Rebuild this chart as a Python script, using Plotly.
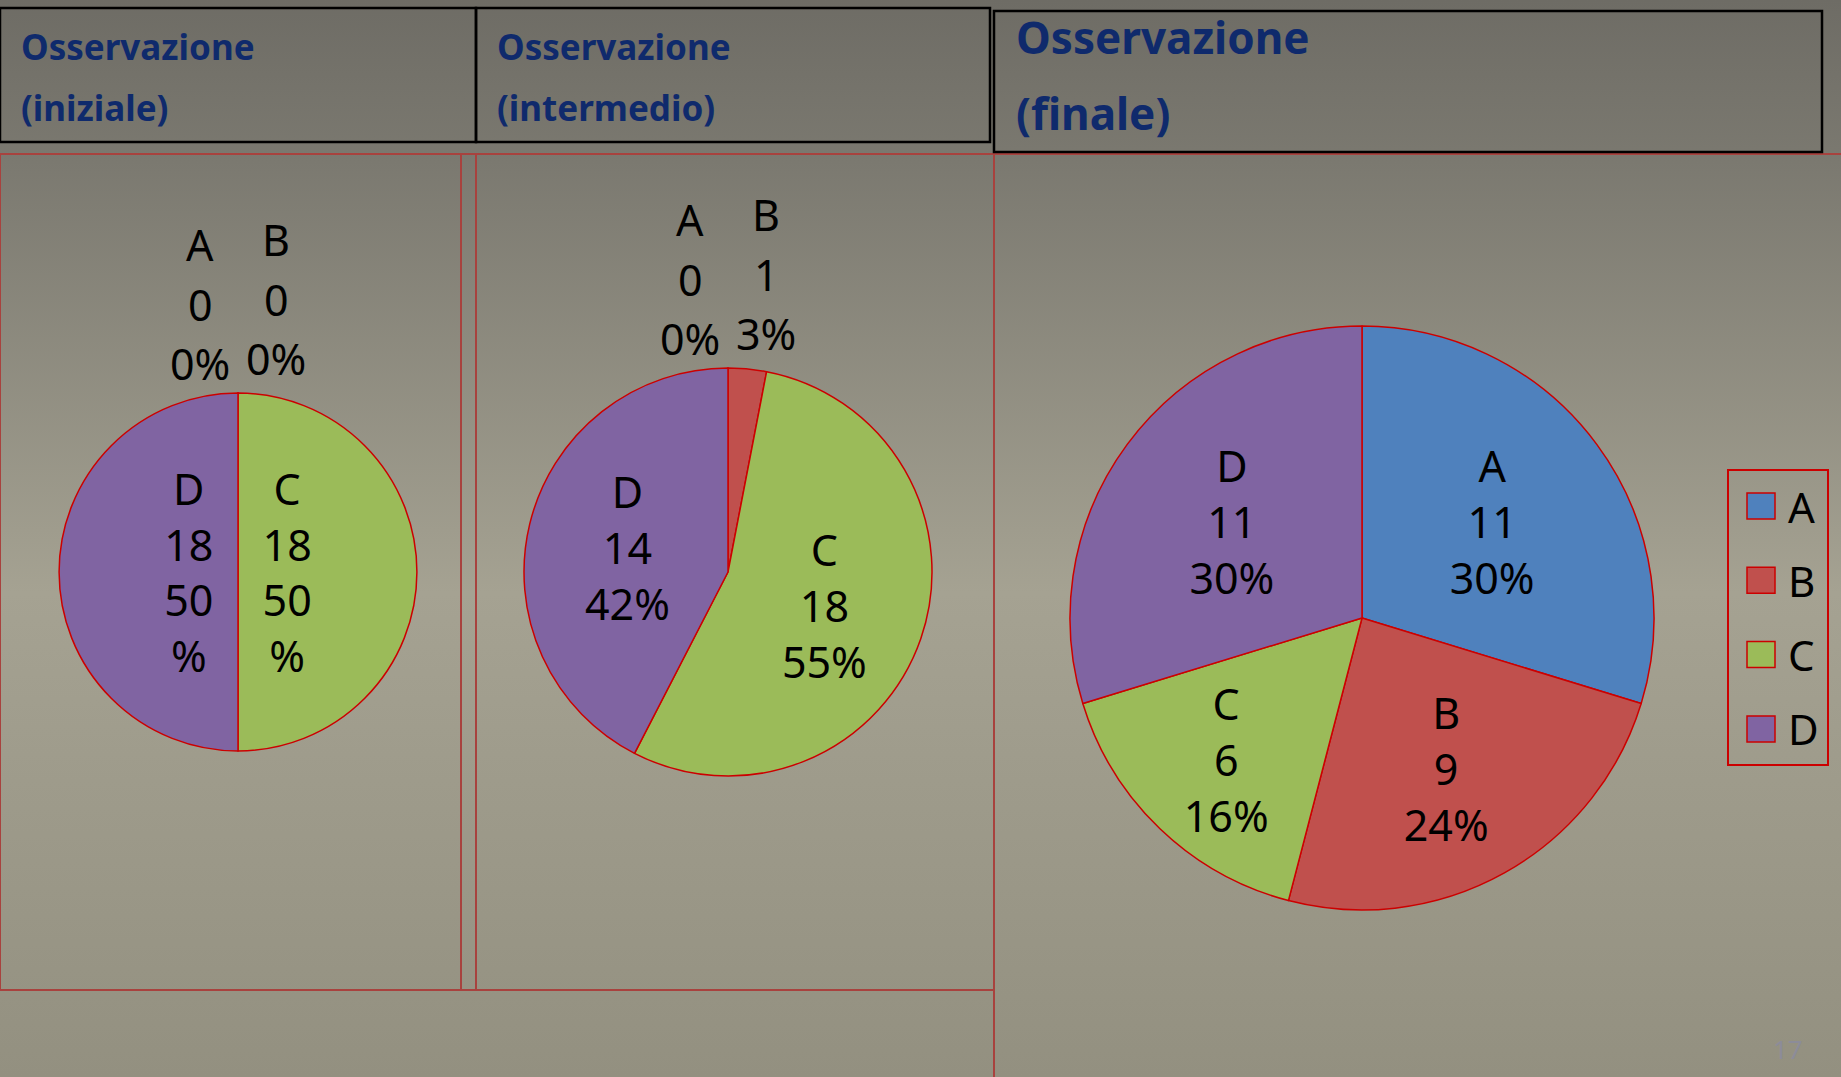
import base64
import plotly.graph_objects as go

W, H = 1841, 1077

# dati
categories = ["A", "B", "C", "D"]
val_iniziale = [0, 0, 18, 18]
val_intermedio = [0, 1, 18, 14]
val_finale = [11, 9, 6, 11]
slice_colors = ["#4f81bd", "#c0504d", "#9bbb59", "#8064a2"]
header_titles = [("Osservazione", "(iniziale)"),
                 ("Osservazione", "(intermedio)"),
                 ("Osservazione", "(finale)")]
slide_number = "17"

FONT = "Noto Sans"
NAVY = "#0f2a6c"
SLICE_LINE = "#cc0000"
FRAME_RED = "#a8423e"
LABEL_SIZE = 43
MIN_SHARE = 0.05  # sotto questa quota l'etichetta va sopra la torta


def px(x):
    return x / W


def py(y):
    return 1 - y / H


def pie_domain(cx, cy, r):
    return dict(x=[px(cx - r), px(cx + r)], y=[py(cy + r), py(cy - r)])


def pct_of(values):
    tot = sum(values)
    return [int(v * 100 / tot + 0.5) for v in values]


def slice_text(values, wrap_pct=False):
    tot = sum(values)
    out = []
    for lab, v, p in zip(categories, values, pct_of(values)):
        if v / tot < MIN_SHARE:
            out.append("")
            continue
        pct_txt = f"{p}<br>%" if wrap_pct else f"{p}%"
        out.append(f"{lab}<br>{v}<br>{pct_txt}")
    return out


fig = go.Figure()
annotations = []

pies = [
    (val_iniziale, (238, 572, 179), True),
    (val_intermedio, (728, 572, 204), False),
    (val_finale, (1362, 618, 292), False),
]
for values, (cx, cy, r), wrap in pies:
    fig.add_trace(go.Pie(
        labels=categories, values=values, sort=False,
        direction="clockwise", rotation=0,
        marker=dict(colors=slice_colors, line=dict(color=SLICE_LINE, width=1.5)),
        text=slice_text(values, wrap), texttemplate="%{text}",
        textposition="inside", insidetextorientation="horizontal", automargin=False,
        textfont=dict(family=FONT, size=LABEL_SIZE, color="black"),
        domain=pie_domain(cx, cy, r), showlegend=False, hoverinfo="label+value+percent",
    ))
    # etichette delle fette piccole, affiancate sopra la torta (una riga alla volta)
    tot = sum(values)
    small = [i for i, v in enumerate(values) if v / tot < MIN_SHARE]
    for k, i in enumerate(small):
        side = -1 if k == 0 else 1
        lines = [categories[i], str(values[i]), f"{pct_of(values)[i]}%"]
        base = cy - r - 30 - 5 * k
        for j, txt in enumerate(lines):
            annotations.append(dict(
                x=px(cx + side * 38), y=py(base - (2 - j) * 59), xref="paper", yref="paper",
                xanchor="center", yanchor="middle", text=txt, showarrow=False,
                font=dict(family=FONT, size=LABEL_SIZE, color="black")))

# sfondo sfumato
svg = (
    "<svg xmlns='http://www.w3.org/2000/svg' width='20' height='1077' preserveAspectRatio='none'>"
    "<defs><linearGradient id='g' x1='0' y1='0' x2='0' y2='1'>"
    "<stop offset='0' stop-color='#6e6c65'/>"
    "<stop offset='0.15' stop-color='#7b7970'/>"
    "<stop offset='0.55' stop-color='#a5a292'/>"
    "<stop offset='1' stop-color='#939080'/>"
    "</linearGradient></defs><rect width='100%' height='100%' fill='url(#g)'/></svg>"
)
bg_src = "data:image/svg+xml;base64," + base64.b64encode(svg.encode()).decode()

shapes = []


def rect(x0, y0, x1, y1, color, width, fill="rgba(0,0,0,0)"):
    shapes.append(dict(type="rect", xref="paper", yref="paper",
                       x0=px(x0), x1=px(x1), y0=py(y1), y1=py(y0),
                       line=dict(color=color, width=width), fillcolor=fill, layer="below"))


# cornici rosse dei pannelli
rect(0, 154, 461, 990, FRAME_RED, 2)
rect(461, 154, 994, 990, FRAME_RED, 2)
rect(476, 154, 994, 990, FRAME_RED, 2)
rect(994, 154, 1860, 1090, FRAME_RED, 2)

# riquadri intestazioni
rect(0, 8, 476, 142, "black", 2.5)
rect(476, 8, 990, 142, "black", 2.5)
rect(994, 11, 1822, 152, "black", 2.5)

header_layout = [
    (19, 47, 107, 35),
    (495, 47, 107, 35),
    (1014, 37, 113, 44),
]
for (l1, l2), (x, y1, y2, size) in zip(header_titles, header_layout):
    for txt, yy in ((l1, y1), (l2, y2)):
        annotations.append(dict(
            x=px(x), y=py(yy), xref="paper", yref="paper", xanchor="left", yanchor="middle",
            text=f"<b>{txt}</b>", showarrow=False,
            font=dict(family=FONT, size=size, color=NAVY)))

# legenda
rect(1728, 470, 1828, 765, SLICE_LINE, 2)
for i, (lab, col) in enumerate(zip(categories, slice_colors)):
    yc = 506 + i * 74.3
    shapes.append(dict(type="rect", xref="paper", yref="paper",
                       x0=px(1747), x1=px(1775), y0=py(yc + 13), y1=py(yc - 13),
                       line=dict(color=SLICE_LINE, width=1.5), fillcolor=col))
    annotations.append(dict(
        x=px(1786), y=py(yc), xref="paper", yref="paper", xanchor="left", yanchor="middle",
        text=lab, showarrow=False, font=dict(family=FONT, size=42, color="black")))

annotations.append(dict(
    x=px(1788), y=py(1049), xref="paper", yref="paper", xanchor="center", yanchor="middle",
    text=slide_number, showarrow=False, font=dict(family=FONT, size=26, color="#8c8c99")))

fig.update_layout(
    width=W, height=H, margin=dict(l=0, r=0, t=0, b=0, autoexpand=False),
    paper_bgcolor="#9c9989", plot_bgcolor="rgba(0,0,0,0)",
    images=[dict(source=bg_src, xref="paper", yref="paper", x=0, y=1, sizex=1, sizey=1,
                 xanchor="left", yanchor="top", sizing="stretch", layer="below")],
    shapes=shapes, annotations=annotations,
)

fig.write_html("out.html", config={"displayModeBar": False},
               post_script="document.body.style.margin='0';document.body.style.overflow='hidden';")
